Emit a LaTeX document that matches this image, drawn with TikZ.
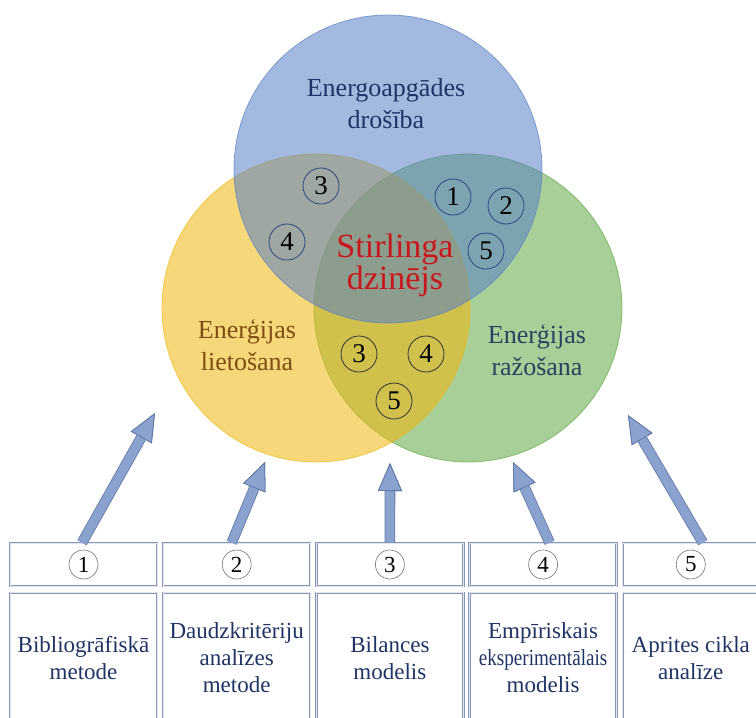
\documentclass[tikz,border=0pt]{standalone}
\usepackage{graphicx}
\usepackage{fontspec}
\setmainfont{Liberation Serif}
\usetikzlibrary{arrows.meta, positioning}

\definecolor{vennblue}{RGB}{88,128,197}
\definecolor{vennyellow}{RGB}{239,182,13}
\definecolor{venngreen}{RGB}{99,168,68}
\definecolor{txtnavy}{RGB}{31,52,100}
\definecolor{txtbrown}{RGB}{125,78,20}
\definecolor{txtslate}{RGB}{40,66,96}
\definecolor{txtred}{RGB}{200,22,30}
\definecolor{ringblue}{RGB}{45,70,130}
\definecolor{boxedge}{RGB}{135,150,182}
\definecolor{arrowfill}{RGB}{140,162,206}
\definecolor{arrowedge}{RGB}{95,120,170}

\begin{document}
\begin{tikzpicture}[
  x=1pt, y=-1pt,
  venn/.style={circle, minimum size=308pt, inner sep=0pt, fill opacity=0.55, draw opacity=0.7, line width=0.8pt},
  vlabel/.style={align=center, font=\fontsize{26}{32}\selectfont},
  num/.style={circle, draw=ringblue, line width=0.8pt, minimum size=36pt, inner sep=0pt, font=\fontsize{27}{27}\selectfont},
  numbox/.style={draw=boxedge, double=boxedge!25, double distance=1pt, line width=0.7pt, minimum width=147pt, minimum height=43pt, inner sep=0pt},
  textbox/.style={numbox, minimum height=130pt, align=center, font=\fontsize{23}{27}\selectfont, text=txtnavy},
  ring/.style={circle, draw=black!55, fill=white, line width=0.6pt, minimum size=29pt, inner sep=0pt, font=\fontsize{23}{23}\selectfont},
  blockarrow/.style={line width=9pt, draw=arrowfill, preaction={draw=arrowedge, line width=10.6pt},
    -{Triangle[width=24pt, length=28pt, line width=0.8pt, fill=arrowfill, color=arrowedge]}}
]
\useasboundingbox (0,0) rectangle (756,718);

% three circles
\node[venn, fill=venngreen, draw=venngreen] (prod) at (468,308) {};
\node[venn, fill=vennyellow, draw=vennyellow] (use) at (316,308) {};
\node[venn, fill=vennblue, draw=vennblue] (sec) at (388,169) {};

\node[vlabel, text=txtnavy] (lsec) at (386,104) {Energoapgādes\\drošība};
\node[vlabel, text=txtbrown] (luse) at (247,345) {Enerģijas\\lietošana};
\node[vlabel, text=txtslate] (lprod) at (537,350) {Enerģijas\\ražošana};
\node[align=center, text=txtred, font=\fontsize{34}{32}\selectfont] (core) at (395,265) {Stirlinga\\dzinējs};

% method numbers in the overlaps
\node[num] (su3) at (321,186) {3};
\node[num] (su4) at (287,242) {4};
\node[num] (sp1) at (453,197) {1};
\node[num] (sp2) at (506,206) {2};
\node[num] (sp5) at (486,251) {5};
\node[num, draw=black!80] (up3) at (359,354) {3};
\node[num, draw=black!80] (up4) at (426,354) {4};
\node[num, draw=black!80] (up5) at (394,401) {5};

% method boxes
\node[numbox] (nb1) at (83.5,564.5) {};
\node[numbox, right=5.5pt of nb1] (nb2) {};
\node[numbox, right=5.5pt of nb2] (nb3) {};
\node[numbox, right=5.5pt of nb3] (nb4) {};
\node[numbox, right=5.5pt of nb4, minimum width=136pt] (nb5) {};

\node[ring] (r1) at (nb1) {1};
\node[ring] (r2) at (nb2) {2};
\node[ring] (r3) at (nb3) {3};
\node[ring] (r4) at (nb4) {4};
\node[ring] (r5) at (nb5) {5};

\node[textbox, below=6pt of nb1] (tb1) {Bibliogrāfiskā\\metode};
\node[textbox, below=6pt of nb2] (tb2) {Daudzkritēriju\\analīzes\\metode};
\node[textbox, below=6pt of nb3] (tb3) {Bilances\\modelis};
\node[textbox, below=6pt of nb4] (tb4) {Empīriskais\\\scalebox{0.83}[1]{eksperimentālais}\\modelis};
\node[textbox, below=6pt of nb5, minimum width=136pt] (tb5) {Aprites cikla\\analīze};

% arrows
\coordinate (tip1) at (155,413);
\coordinate (tip2) at (265,462);
\coordinate (tip3) at (390,463);
\coordinate (tip4) at (513,462);
\coordinate (tip5) at (628,415);

\draw[blockarrow] ([xshift=-1.5pt]nb1.north) -- (tip1);
\draw[blockarrow] ([xshift=-5pt]nb2.north) -- (tip2);
\draw[blockarrow] (nb3.north) -- (tip3);
\draw[blockarrow] ([xshift=6.5pt]nb4.north) -- (tip4);
\draw[blockarrow] ([xshift=12pt]nb5.north) -- (tip5);
\end{tikzpicture}
\end{document}
